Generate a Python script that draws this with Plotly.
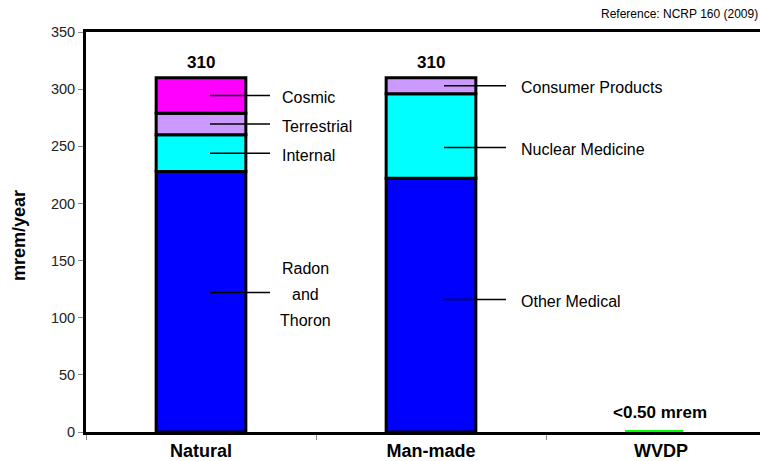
import numpy as np
import plotly.graph_objects as go

# ---------------- data ----------------
categories = ["Natural", "Man-made", "WVDP"]

natural_labels = ["Radon\nand\nThoron", "Internal", "Terrestrial", "Cosmic"]
natural_values = [228, 32, 19, 31]

manmade_labels = ["Other Medical", "Nuclear Medicine", "Consumer Products"]
manmade_values = [222, 74, 14]

wvdp_value = [0.5]
wvdp_label = "<0.50 mrem"

y_ticks = [0, 50, 100, 150, 200, 250, 300, 350]
reference_text = "Reference: NCRP 160 (2009)"

# ---------------- styles ----------------
FONT = "Liberation Sans, Arial, sans-serif"
natural_colors = ["#0000FF", "#00FFFF", "#CC99FF", "#FF00FF"]
manmade_colors = ["#0000FF", "#00FFFF", "#CC99FF"]
WVDP_COLOR = "#00FF00"
BAR_WIDTH = 0.39

# leader line pixel offsets from category centre, and text offset
leader_style = {
    "Natural": dict(x0=9, x1=69, text_dx=79),
    "Man-made": dict(x0=13, x1=75, text_dx=88),
}
label_nudge = {"Radon\nand\nThoron": 8, "Nuclear Medicine": -10, "Other Medical": 5}

fig = go.Figure()

stacks = [
    ("Natural", natural_labels, natural_values, natural_colors),
    ("Man-made", manmade_labels, manmade_values, manmade_colors),
]

annotations = []
shapes = []

for cat, labels, values, colors in stacks:
    vals = np.array(values, dtype=float)
    bases = np.concatenate([[0], np.cumsum(vals)[:-1]])
    fig.add_trace(go.Bar(
        x=[cat] * len(vals), y=vals, base=bases,
        width=BAR_WIDTH,
        marker=dict(color=colors, line=dict(color="black", width=3)),
        hoverinfo="skip", showlegend=False,
    ))
    total = vals.sum()
    annotations.append(dict(
        x=cat, y=total, xref="x", yref="y", text="<b>%d</b>" % round(total),
        showarrow=False, yanchor="middle", yshift=15,
        font=dict(family=FONT, size=17, color="black"),
    ))
    ci = categories.index(cat)
    st = leader_style[cat]
    for lab, b, v in zip(labels, bases, vals):
        ymid = b + v / 2 + label_nudge.get(lab, 0)
        shapes.append(dict(
            type="line", xref="x", yref="y", xsizemode="pixel", xanchor=ci,
            x0=st["x0"], x1=st["x1"], y0=ymid, y1=ymid,
            line=dict(color="black", width=1.5),
        ))
        lines = lab.split("\n")
        n = len(lines)
        for i, ln in enumerate(lines):
            yshift = -2 - (i - (n - 1) / 2) * 26
            if n == 1:
                annotations.append(dict(
                    x=ci, y=ymid, xref="x", yref="y", text=ln, showarrow=False,
                    xanchor="left", yanchor="middle", xshift=st["text_dx"], yshift=yshift,
                    font=dict(family=FONT, size=16, color="black"),
                ))
            else:
                annotations.append(dict(
                    x=ci, y=ymid, xref="x", yref="y", text=ln, showarrow=False,
                    xanchor="center", yanchor="middle", xshift=st["text_dx"] + 25, yshift=yshift,
                    font=dict(family=FONT, size=16, color="black"),
                ))

# WVDP tiny bar
fig.add_trace(go.Bar(
    x=["WVDP"], y=wvdp_value, base=[0], width=0.24, offset=-0.15,
    marker=dict(color=WVDP_COLOR, line=dict(color=WVDP_COLOR, width=3)),
    hoverinfo="skip", showlegend=False,
))
annotations.append(dict(
    x="WVDP", y=0, xref="x", yref="y", text="<b>%s</b>" % wvdp_label,
    showarrow=False, yanchor="middle", yshift=20, xshift=-1,
    font=dict(family=FONT, size=17, color="black"),
))

# y axis title
annotations.append(dict(
    x=(19 - 86) / 674, y=0.49, xref="paper", yref="paper", text="<b>mrem/year</b>",
    textangle=-90, showarrow=False, xanchor="center", yanchor="middle",
    font=dict(family=FONT, size=18, color="black"),
))
# reference note
annotations.append(dict(
    x=1.0, y=1 + 18 / 400, xref="paper", yref="paper", text=reference_text,
    showarrow=False, xanchor="right", yanchor="middle",
    font=dict(family=FONT, size=12, color="black"),
))

fig.update_layout(
    width=760, height=461,
    margin=dict(l=86, r=0, t=32, b=29, autoexpand=False),
    paper_bgcolor="white", plot_bgcolor="white",
    barmode="overlay",
    showlegend=False,
    annotations=annotations,
    shapes=shapes,
    xaxis=dict(
        type="category", categoryorder="array", categoryarray=categories,
        range=[-0.5, -0.5 + 674 / 230],
        showline=True, linecolor="black", linewidth=3, mirror=True,
        ticks="outside", tickson="boundaries", ticklen=5, tickcolor="#888888", tickwidth=1,
        tickfont=dict(family=FONT, size=18, color="black"),
        tickvals=categories, ticktext=["<b>%s</b>" % c for c in categories],
        showgrid=False, zeroline=False, layer="below traces", fixedrange=True,
    ),
    yaxis=dict(
        range=[0, 350], tickvals=y_ticks,
        showline=True, linecolor="black", linewidth=3, mirror=False,
        ticks="outside", ticklen=5, tickcolor="#888888", tickwidth=1,
        tickfont=dict(family=FONT, size=14.5, color="#222222"),
        showgrid=False, zeroline=False, layer="below traces", fixedrange=True,
    ),
)

fig.write_html("out.html")
